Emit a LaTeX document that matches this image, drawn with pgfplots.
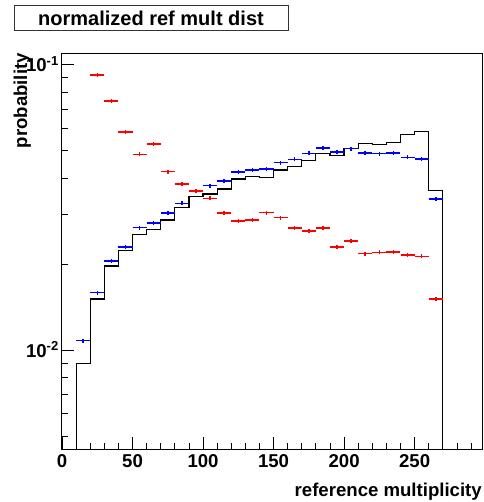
\documentclass[border=0pt]{standalone}
\usepackage{pgfplots}
\pgfplotsset{compat=1.18}
\usepackage{fontspec}
\setmainfont{Liberation Sans}
\newcommand{\lab}{\bfseries\fontsize{18.6bp}{22bp}\selectfont}
\pgfdeclareplotmark{hbar}{%
  \pgfpathmoveto{\pgfpoint{-7.05bp}{0pt}}\pgfpathlineto{\pgfpoint{7.05bp}{0pt}}%
  \pgfpathmoveto{\pgfpoint{0pt}{-2bp}}\pgfpathlineto{\pgfpoint{0pt}{2bp}}%
  \pgfusepathqstroke}
\begin{document}
\begin{tikzpicture}
\begin{axis}[
  scale only axis,
  width=420.3bp, height=396bp,
  ymode=log,
  xmin=0, xmax=298,
  ymin=0.0045, ymax=0.110,
  axis line style={line width=1bp},
  tick align=inside,
  tick pos=left,
  major tick length=12bp,
  minor tick length=6bp,
  every tick/.style={black, line width=0.8bp},
  xtick={0,50,100,150,200,250},
  xticklabels={0,50,100,150,200,250},
  minor xtick={10,20,30,40,60,70,80,90,110,120,130,140,160,170,180,190,210,220,230,240,260,270,280,290},
  ytick={0.01,0.1},
  yticklabels={10\textsuperscript{-2},10\textsuperscript{-1}},
  minor ytick={0.005,0.006,0.007,0.008,0.009,0.02,0.03,0.04,0.05,0.06,0.07,0.08,0.09},
  xticklabel style={font=\lab, anchor=north, inner sep=0pt, yshift=-5bp},
  yticklabel style={font=\lab, anchor=base east, inner sep=0pt, xshift=-3bp, yshift=-7bp},
  clip=true,
]
\coordinate (O) at (rel axis cs:0,0);
% reference histogram (black)
\addplot[black, line width=1.2bp, const plot mark left] coordinates {
(10,0.003) (10,0.00898) (20,0.0151) (30,0.0197) (40,0.0224) (50,0.02546)
(60,0.0265) (70,0.02857) (80,0.0316) (90,0.0345) (100,0.03527) (110,0.0367)
(120,0.0398) (130,0.0407) (140,0.0402) (150,0.0428) (160,0.0441) (170,0.0462)
(180,0.0490) (190,0.0482) (200,0.0508) (210,0.0529) (220,0.0527) (230,0.0534)
(240,0.0570) (250,0.0584) (260,0.0363) (270,0.0363) (270,0.003)
};
% blue points
\addplot[only marks, mark=hbar, mark options={draw=blue, line width=1.5bp}] coordinates {
(15,0.0108) (25,0.0159) (35,0.0205) (45,0.0230) (55,0.02686) (65,0.0279)
(75,0.0302) (85,0.0327) (95,0.0361) (105,0.0377) (115,0.0391) (125,0.0421)
(135,0.0427) (145,0.0431) (155,0.0454) (165,0.0466) (175,0.0489) (185,0.0511)
(195,0.0494) (205,0.0508) (215,0.0490) (225,0.0488) (235,0.0490) (245,0.0474)
(255,0.0467) (265,0.0339)
};
% red points
\addplot[only marks, mark=hbar, mark options={draw=red, line width=1.5bp}] coordinates {
(25,0.0922) (35,0.0748) (45,0.0582) (55,0.0485) (65,0.0528) (75,0.0422)
(85,0.0382) (95,0.0361) (105,0.0340) (115,0.0302) (125,0.0284) (135,0.0286)
(145,0.0303) (155,0.0291) (165,0.0268) (175,0.0261) (185,0.0268) (195,0.0230)
(205,0.0241) (215,0.0218) (225,0.0220) (235,0.0221) (245,0.0215) (255,0.0213)
(265,0.0151)
};
\end{axis}
% title box
\draw[line width=0.8bp, black!80] ([xshift=-48bp,yshift=418.5bp]O) rectangle ([xshift=226bp,yshift=444bp]O);
\node[font=\bfseries\fontsize{20bp}{24bp}\selectfont, anchor=base, inner sep=0pt] at ([xshift=89bp,yshift=423bp]O) {normalized ref mult dist};
% axis labels
\node[font=\lab, rotate=90, anchor=base east, inner sep=0pt] at ([xshift=-35bp,yshift=396bp]O) {probability};
\node[font=\lab, anchor=base east, inner sep=0pt] at ([xshift=420bp,yshift=-47bp]O) {reference multiplicity};
\pgfresetboundingbox
\path ([xshift=-62bp,yshift=-53bp]O) rectangle ++(484bp,502bp);
\end{tikzpicture}
\end{document}
